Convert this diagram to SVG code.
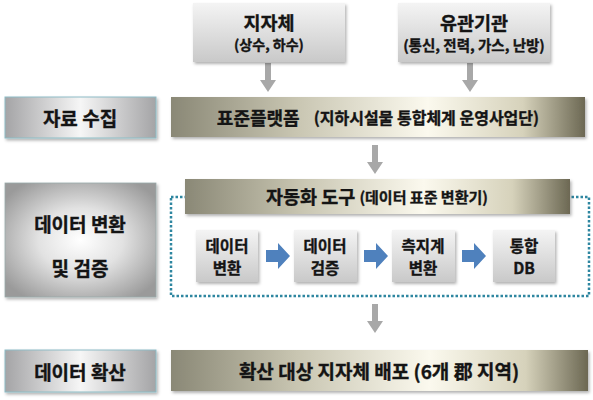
<svg xmlns="http://www.w3.org/2000/svg" width="593" height="400" viewBox="0 0 593 400">
<defs>
  <linearGradient id="gTop" x1="0" y1="0" x2="0" y2="1">
    <stop offset="0" stop-color="#f4f4f4"/>
    <stop offset="1" stop-color="#c9c9c9"/>
  </linearGradient>
  <linearGradient id="gBar" x1="0" y1="0" x2="1" y2="0">
    <stop offset="0" stop-color="#8a8876"/>
    <stop offset="0.3" stop-color="#c8c5b1"/>
    <stop offset="0.62" stop-color="#fbf9ee"/>
    <stop offset="0.85" stop-color="#d6d2bb"/>
    <stop offset="1" stop-color="#6c6853"/>
  </linearGradient>
  <linearGradient id="gSilver" x1="0" y1="0" x2="1" y2="0">
    <stop offset="0" stop-color="#a4a4a6"/>
    <stop offset="0.5" stop-color="#f6f6f6"/>
    <stop offset="1" stop-color="#a4a4a6"/>
  </linearGradient>
  <radialGradient id="gRadial" cx="0.5" cy="0.5" r="0.62">
    <stop offset="0" stop-color="#ffffff"/>
    <stop offset="0.45" stop-color="#e2e2e2"/>
    <stop offset="1" stop-color="#9a9a9a"/>
  </radialGradient>
  <filter id="sh" x="-10%" y="-10%" width="125%" height="135%">
    <feDropShadow dx="1.5" dy="2" stdDeviation="1.5" flood-color="#000" flood-opacity="0.3"/>
  </filter>
</defs>
<style>
  text { font-family: "Noto Sans CJK KR", "Noto Sans", sans-serif; font-weight: bold; fill: #141414; stroke: #141414; stroke-width: 0.35; text-anchor: middle; dominant-baseline: central; }
  .big { font-size: 19px; }
  .tb { font-size: 18.5px; }
  .mid { font-size: 16px; }
  .st { font-size: 15.5px; }
  .sm { font-size: 14px; }
  .top { fill: url(#gTop); filter: url(#sh); }
  .bar { fill: url(#gBar); filter: url(#sh); }
  .silver { fill: url(#gSilver); stroke: #8dbcc5; stroke-width: 1; filter: url(#sh); }
  .garrow { fill: #a8a8a8; }
  .barrow { fill: #4f81bd; }
</style>

<g id="connectors">
  <path class="garrow" d="M265,63 H271 V80 H276 L268,92 L260,80 H265 Z"/>
  <path class="garrow" d="M467,63 H473 V80 H478 L470,92 L462,80 H467 Z"/>
  <path class="garrow" d="M372,145 H378 V162 H383 L375,174 L367,162 H372 Z"/>
  <path class="garrow" d="M372,304 H378 V321 H383 L375,333 L367,321 H372 Z"/>
  <path class="barrow" d="M266,250 H278 V243 L290,256 L278,269 V262 H266 Z"/>
  <path class="barrow" d="M364,250 H376 V243 L388,256 L376,269 V262 H364 Z"/>
  <path class="barrow" d="M462,250 H474 V243 L486,256 L474,269 V262 H462 Z"/>
</g>

<g id="group-dotted">
  <rect x="171" y="197" width="418" height="99" fill="none" stroke="#2e86a0" stroke-width="2.5" stroke-dasharray="2.5 2"/>
</g>

<g id="node-jijache">
  <rect class="top" x="193" y="3" width="152" height="59"/>
  <text class="tb" x="269" y="22">지자체</text>
  <text class="sm" x="269" y="44">(상수, 하수)</text>
</g>

<g id="node-yugwan">
  <rect class="top" x="398" y="3" width="152" height="59"/>
  <text class="tb" x="474" y="22">유관기관</text>
  <text class="sm" x="474" y="44" style="font-size:14.5px">(통신, 전력, 가스, 난방)</text>
</g>

<g id="node-collect">
  <rect class="silver" x="5" y="97" width="151" height="41"/>
  <text class="big" x="80" y="117">자료 수집</text>
</g>

<g id="node-platform">
  <rect class="bar" x="171" y="97" width="414" height="40"/>
  <text x="378" y="117"><tspan style="font-size:18px">표준플랫폼</tspan><tspan class="mid" dx="14">(지하시설물 통합체계 운영사업단)</tspan></text>
</g>

<g id="node-convert">
  <rect x="5" y="183" width="151" height="114" fill="url(#gRadial)" stroke="#9aa" stroke-width="0.8" filter="url(#sh)"/>
  <text class="big" x="80" y="223">데이터 변환</text>
  <text class="big" x="80" y="267">및 검증</text>
</g>

<g id="node-tool">
  <rect class="bar" x="185" y="179" width="385" height="35"/>
  <text x="377" y="196"><tspan class="tb">자동화 도구</tspan><tspan style="font-size:15px" dx="4">(데이터 표준 변환기)</tspan></text>
</g>

<g id="node-step1">
  <rect class="top" x="196" y="230" width="62" height="52"/>
  <text class="st" x="227" y="245">데이터</text>
  <text class="st" x="227" y="267">변환</text>
</g>

<g id="node-step2">
  <rect class="top" x="294" y="230" width="63" height="52"/>
  <text class="st" x="325" y="245">데이터</text>
  <text class="st" x="325" y="267">검증</text>
</g>

<g id="node-step3">
  <rect class="top" x="392" y="230" width="63" height="52"/>
  <text class="st" x="423" y="245">측지계</text>
  <text class="st" x="423" y="267">변환</text>
</g>

<g id="node-step4">
  <rect class="top" x="493" y="230" width="62" height="52"/>
  <text class="st" x="524" y="245">통합</text>
  <text class="st" x="524" y="267">DB</text>
</g>

<g id="node-spread">
  <rect class="silver" x="5" y="350" width="151" height="42"/>
  <text class="big" x="80" y="371">데이터 확산</text>
</g>

<g id="node-deploy">
  <rect class="bar" x="171" y="350" width="417" height="41"/>
  <text class="big" x="379" y="370">확산 대상 지자체 배포 (6개 郡 지역)</text>
</g>
</svg>
